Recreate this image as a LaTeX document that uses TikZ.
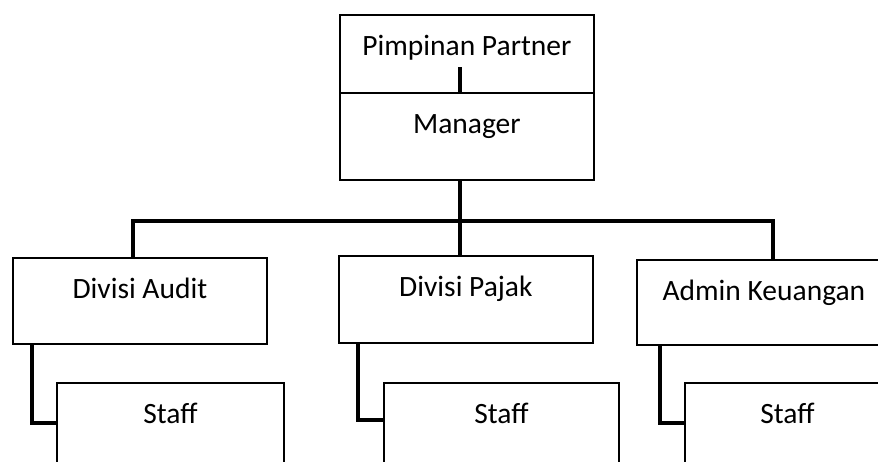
\documentclass[tikz,border=0pt]{standalone}
\usepackage{fontspec}
\setmainfont{Carlito}
\begin{document}
\begin{tikzpicture}[x=1pt,y=-1pt,
	box_node/.style={draw,line width=1.8pt,rectangle,anchor=north west,inner sep=0pt,minimum width=254pt,text height=41pt,font=\fontsize{29.5}{35}\selectfont},
	staff_node/.style={box_node,minimum width=235pt,text depth=70pt},
	conn/.style={line width=3.4pt}]
		
		\useasboundingbox (0,0) rectangle (878,461);
		\clip (0,0) rectangle (878,461);
		
		\node[box_node,text depth=37pt] (pimpinan) at (339,14) {Pimpinan Partner};
		\node[box_node,text depth=46pt] (manager) at (339,92) {Manager};
		\node[box_node,text depth=45pt] (audit) at (12,257) {Divisi Audit};
		\node[box_node,text depth=46pt] (pajak) at (338,255) {Divisi Pajak};
		\node[box_node,text depth=44pt] (admin) at (636,259) {Admin Keuangan};
		\node[staff_node,minimum width=227pt] (staffA) at (56,382) {Staff};
		\node[staff_node] (staffP) at (383,382) {Staff};
		\node[staff_node,minimum width=205pt] (staffK) at (684,382) {Staff};
		
		\coordinate (bus) at (460,221);

		\draw[conn] ([yshift=25]manager.north -| bus) -- (manager.north -| bus);
		\draw[conn] (manager.south -| bus) -- (bus);
		\draw[conn] ([xshift=121]audit.north west) |- (bus) -| ([xshift=137]admin.north west);
		\draw[conn] (bus) -- (pajak.north -| bus);
		\draw[conn] ([xshift=20]audit.south west) |- ([yshift=-41]staffA.north west);
		\draw[conn] ([xshift=20]pajak.south west) |- ([yshift=-38]staffP.north west);
		\draw[conn] ([xshift=24]admin.south west) |- ([yshift=-41]staffK.north west);
		\end{tikzpicture}
\end{document}
